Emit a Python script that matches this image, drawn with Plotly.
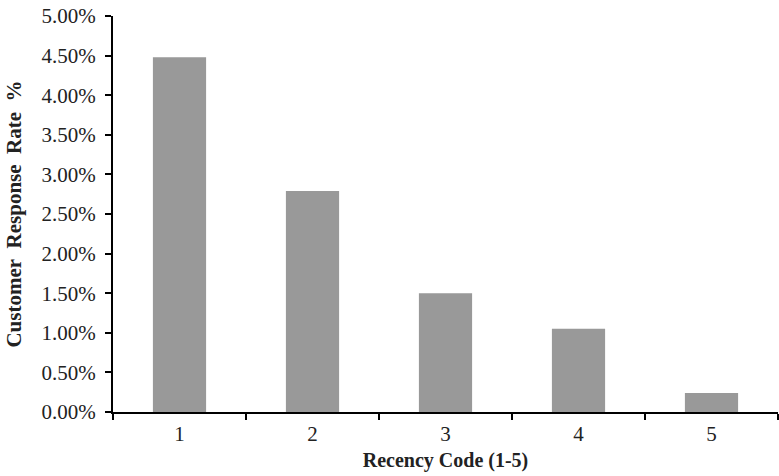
import plotly.graph_objects as go

categories = ["1", "2", "3", "4", "5"]
response_rate = [0.0448, 0.0279, 0.0150, 0.0105, 0.0024]
y_ticks = [i * 0.005 for i in range(11)]
y_tick_labels = [f"{v*100:.2f}%" for v in y_ticks]

fig = go.Figure()
fig.add_trace(go.Bar(
    x=categories, y=response_rate, width=0.4,
    marker=dict(color="#999999", line=dict(width=0)),
))
font = "Liberation Serif, Times New Roman, serif"
fig.update_layout(
    width=779, height=476,
    margin=dict(l=113, r=1, t=16, b=64),
    plot_bgcolor="white", paper_bgcolor="white",
    showlegend=False,
    font=dict(family=font, color="#222222", size=22),
    xaxis=dict(
        type="category", tickson="boundaries", ticks="outside", ticklen=6,
        tickwidth=1.5, tickcolor="black",
        showline=True, linecolor="black", linewidth=2,
        showgrid=False, tickfont=dict(size=21, family=font),
        ticklabelstandoff=2,
        title=dict(text="<b>Recency Code (1-5)</b>", font=dict(size=20, family=font), standoff=8),
    ),
    yaxis=dict(
        range=[0, 0.05], tickvals=y_ticks, ticktext=y_tick_labels,
        ticks="outside", ticklen=6, tickwidth=1.5, tickcolor="black",
        showline=True, linecolor="black", linewidth=2,
        showgrid=False, zeroline=False, tickfont=dict(size=21, family=font),
        ticklabelstandoff=5,
        title=dict(text="<b>Customer&nbsp; Response&nbsp; Rate&nbsp; %</b>", font=dict(size=21, family=font), standoff=14),
    ),
)
fig.write_html("out.html")
